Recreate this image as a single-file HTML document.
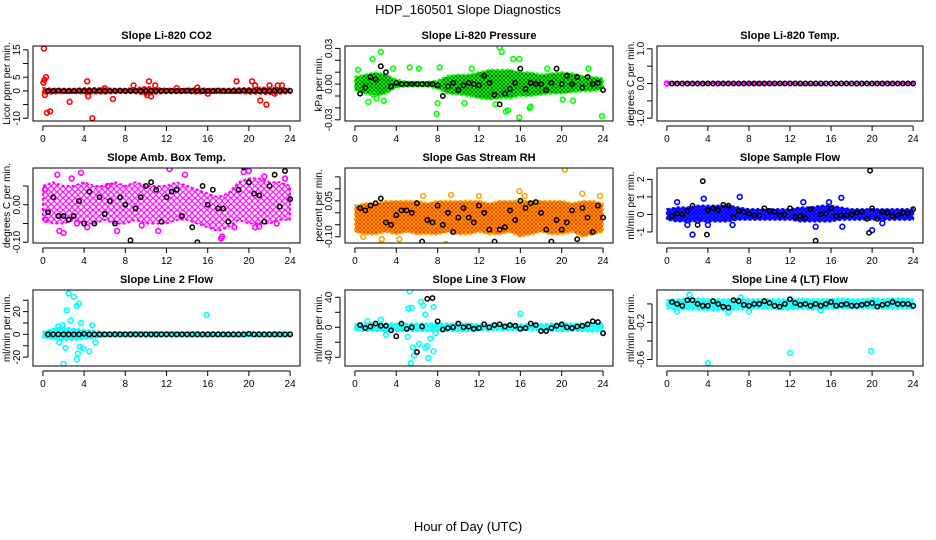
<!DOCTYPE html>
<html><head><meta charset="utf-8">
<style>
html,body{margin:0;padding:0;background:#fff;}
svg{display:block;font-family:"Liberation Sans",Arial,sans-serif;}
.t{font-size:11px;font-weight:bold;}
.tk{font-size:10px;}
</style></head>
<body>
<svg id="chart" width="936" height="540" viewBox="0 0 936 540">
<defs id="defs"></defs>
<text x="468" y="14" text-anchor="middle" font-size="13">HDP_160501  Slope Diagnostics</text>
<text x="468" y="531" text-anchor="middle" font-size="13">Hour of Day (UTC)</text>
</svg>
<script>
// shared
const bandHours = [0,1,2,3,4,5,6,7,8,9,10,11,12,13,14,15,16,17,18,19,20,21,22,23,24];
const blkHours = [0.5,1,1.5,2,2.5,3,3.5,4,4.5,5,5.5,6,6.5,7,7.5,8,8.5,9,9.5,10,10.5,11,11.5,12,12.5,13,13.5,14,14.5,15,15.5,16,16.5,17,17.5,18,18.5,19,19.5,20,20.5,21,21.5,22,22.5,23,23.5,24];
const xTicks = [0,4,8,12,16,20,24];

// Panel 1: CO2
const co2Lo = [-1,-1,-0.8,-0.8,-1,-1,-1,-0.8,-0.8,-0.8,-1.5,-1,-0.8,-0.8,-0.8,-1,-0.8,-0.8,-0.8,-0.8,-1,-1,-1.2,-1,-0.8];
const co2Hi = [1,0.8,0.8,0.8,1,1,1,0.8,0.8,1,1.5,1,0.8,0.8,0.8,1,0.8,0.8,0.8,1,1,1.2,1.2,1,0.8];
const co2OutX = [0.1,0.05,0.15,0.3,0.4,0.7,0.2,2.6,4.3,4.4,4.8,6.8,10.3,10.5,10.1,8.8,18.8,20.3,21.1,21.7,22,22.8,23.2,22.5,20.6,10.9,6,13,15,16];
const co2OutY = [15.5,3,4,5,-8,-7.5,-1.5,-4,3.5,-2,-10,-3,3.5,-2,-1.5,2,3.5,3.5,-3.5,-5,2,2,2,-1,2,2,1,1,1.2,-1];
const co2Blk = [0,0,0.1,0,0,0,0.1,0,0,0.1,0,0,0,0,0.1,0,0,0,0,0,0.1,0,0,0,0,0,0,0.1,0,0,0,0,0,0.1,0,0,0,0,0.1,0,0,0,0,0,0,0,0.1,0];
const co2YTicks = [-10,-5,0,5,10,15];
const co2YLabels = ["-10","","0","5","","15"];

// Panel 2: Pressure
const prLo = [-0.005,-0.008,-0.01,-0.008,-0.003,-0.002,-0.002,-0.002,-0.004,-0.008,-0.009,-0.01,-0.012,-0.013,-0.012,-0.012,-0.01,-0.01,-0.009,-0.008,-0.008,-0.007,-0.006,-0.006,-0.004];
const prHi = [0.006,0.008,0.01,0.008,0.004,0.002,0.002,0.002,0.003,0.007,0.008,0.008,0.01,0.012,0.012,0.012,0.01,0.01,0.008,0.009,0.01,0.009,0.007,0.006,0.005];
const prOutX = [2.5,1.7,14,14.2,15.3,15.9,0.3,8.2,1.3,1.8,7.9,8.0,10.6,13.6,14.6,14.8,15.9,17,16.9,20.1,21.1,23.9,5.3,6.2,11.3,3.7,18.6,22.6,2.1,2.8];
const prOutY = [0.027,0.021,0.031,0.027,0.021,0.021,0.012,0.014,-0.015,-0.009,-0.025,-0.016,-0.016,-0.017,-0.023,-0.022,-0.028,-0.019,-0.02,-0.013,-0.014,-0.027,0.014,0.013,0.013,0.013,0.013,0.013,-0.012,-0.014];
const prBlk = [-0.008,-0.003,0.006,0.004,0.015,0.01,-0.002,0.001,0,0,0,0,0,0,0,-0.001,-0.01,-0.002,0.001,-0.005,-0.001,0.001,0,-0.001,0.007,0.001,-0.009,-0.017,-0.008,-0.004,0.001,0.013,-0.004,0.001,0,0,-0.005,0.001,0.013,0,0.007,0,0.006,-0.003,0.006,0,0.001,-0.005];
const prYTicks = [-0.03,-0.02,-0.01,0,0.01,0.02,0.03];
const prYLabels = ["-0.03","","","0.00","","","0.03"];

// Panel 3: Li-820 Temp
const tLo = [-0.02,-0.02,-0.02,-0.02,-0.02,-0.02,-0.02,-0.02,-0.02,-0.02,-0.02,-0.02,-0.02,-0.02,-0.02,-0.02,-0.02,-0.02,-0.02,-0.02,-0.02,-0.02,-0.02,-0.02,-0.02];
const tHi = [0.02,0.02,0.02,0.02,0.02,0.02,0.02,0.02,0.02,0.02,0.02,0.02,0.02,0.02,0.02,0.02,0.02,0.02,0.02,0.02,0.02,0.02,0.02,0.02,0.02];
const tOutX = [0];
const tOutY = [0];
const tBlk = [0,0,0,0,0,0,0,0,0,0,0,0,0,0,0,0,0,0,0,0,0,0,0,0,0,0,0,0,0,0,0,0,0,0,0,0,0,0,0,0,0,0,0,0,0,0,0,0];
const tYTicks = [-1,-0.5,0,0.5,1];
const tYLabels = ["-1.0","","0.0","","1.0"];

// Panel 4: Amb box temp
const abLo = [-0.04,-0.05,-0.05,-0.04,-0.05,-0.05,-0.04,-0.05,-0.05,-0.04,-0.05,-0.05,-0.05,-0.04,-0.04,-0.05,-0.06,-0.07,-0.06,-0.04,-0.05,-0.05,-0.05,-0.04,-0.04];
const abHi = [0.05,0.06,0.05,0.05,0.06,0.05,0.05,0.06,0.05,0.06,0.05,0.05,0.05,0.06,0.05,0.04,0.03,0.02,0.03,0.06,0.07,0.07,0.06,0.06,0.05];
const abOutX = [1.4,2.8,3.7,9,12.3,19.5,20,17.3,17.4,1.6,2,4.3,7.2,11.2,3.3,9.6,18.6,20.6,21,22.7,0.2,21.5,6.3,13.8,0.3,23.5];
const abOutY = [0.08,0.07,0.085,0.105,0.095,0.087,0.09,-0.09,-0.085,-0.07,-0.075,-0.06,-0.07,-0.07,-0.05,-0.055,-0.06,-0.06,-0.058,-0.05,0.04,0.075,0.05,0.08,-0.04,0.07];
const abBlk = [-0.02,0.02,-0.03,-0.03,-0.04,-0.03,0.01,-0.05,0.035,-0.05,0.02,-0.025,0.01,-0.05,0.02,0,-0.095,-0.01,0.02,0.05,0.06,0.04,-0.045,0.02,0.035,0.04,-0.03,0.12,-0.06,-0.1,0.05,0,0.04,-0.01,-0.01,-0.045,-0.14,0.04,0.1,0.06,0.03,0.025,-0.045,0.05,0.08,-0.005,0.09,0.015];
const abYTicks = [-0.1,-0.05,0,0.05];
const abYLabels = ["-0.10","","0.00",""];

// Panel 5: Gas stream RH
const rhLo = [-0.08,-0.09,-0.09,-0.08,-0.09,-0.08,-0.09,-0.09,-0.09,-0.08,-0.09,-0.09,-0.08,-0.09,-0.09,-0.08,-0.1,-0.09,-0.08,-0.09,-0.09,-0.08,-0.1,-0.09,-0.08];
const rhHi = [0.03,0.04,0.04,0.05,0.05,0.05,0.05,0.04,0.05,0.05,0.05,0.05,0.05,0.04,0.05,0.05,0.05,0.05,0.05,0.05,0.05,0.04,0.05,0.05,0.04];
const rhOutX = [2.5,2.6,20.3,15.9,23.7,8.8,22,4.3,6.6,9.3,16.4,0.8,12];
const rhOutY = [-0.13,-0.11,0.18,0.09,0.07,-0.13,0.08,-0.11,0.07,0.075,0.07,-0.1,0.07];
const rhBlk = [0.02,0.01,0.03,0.04,0.06,-0.04,-0.05,-0.01,0.01,0.01,0,0.04,-0.12,-0.03,-0.04,0.03,-0.05,0,-0.08,-0.02,0.02,-0.02,-0.04,0.03,0,-0.07,-0.12,-0.07,-0.06,0.01,-0.03,0.05,0.02,0.04,0.045,0,-0.07,-0.12,-0.03,-0.07,-0.04,0.01,-0.11,0.02,-0.02,-0.08,0.03,-0.02];
const rhYTicks = [-0.1,-0.05,0,0.05,0.1,0.15];
const rhYLabels = ["-0.10","","","0.05","",""];

// Panel 6: Sample flow
const sfLo = [-0.3,-0.4,-0.4,-0.4,-0.4,-0.4,-0.4,-0.3,-0.3,-0.3,-0.3,-0.3,-0.3,-0.4,-0.4,-0.4,-0.4,-0.3,-0.3,-0.3,-0.3,-0.3,-0.3,-0.3,-0.3];
const sfHi = [0.3,0.4,0.4,0.5,0.5,0.5,0.5,0.4,0.3,0.3,0.3,0.3,0.3,0.4,0.4,0.5,0.5,0.4,0.3,0.3,0.3,0.3,0.3,0.3,0.3];
const sfOutX = [2.5,7.1,17,3.6,20,1,2,4,6.4,13.3,14.5,15.8,17.1,21];
const sfOutY = [-1.15,1,0.95,0.9,-0.9,0.7,-0.6,-0.6,-0.6,0.7,-0.7,0.7,-0.7,-0.5];
const sfBlk = [-0.1,0.05,0,0.2,0.5,-0.6,1.9,0.25,0.35,0.25,0.55,0.5,-0.15,0.2,0.15,0.05,-0.05,-0.05,0.35,0.2,0.15,-0.05,0,0.35,-0.15,-0.1,-0.2,0.3,-1.5,0,0.05,0.35,-0.1,-0.05,-0.05,0,0.1,0.15,-0.25,0.35,-0.25,0.15,0.1,-0.1,-0.05,0.1,0.05,0.3];
const sfXtraX = [3.9,19.8,19.7];
const sfXtraY = [-1.15,2.5,-1.05];
const sfYTicks = [-1,0,1,2];
const sfYLabels = ["-1","0","1","2"];

// Panel 7: Line 2 flow
const l2Lo = [-3,-4,-5,-5,-4,-3,-2,-2,-2,-2,-2,-2,-2,-2,-2,-2,-2,-2,-2,-2,-2,-2,-2,-2,-2];
const l2Hi = [2,5,6,5,4,3,2,2,2,2,2,2,2,2,2,2,2,2,2,2,2,2,2,2,2];
const l2OutX = [2.5,3,2.3,3.3,3.5,1.6,2.2,3.6,3.9,3.4,3.3,2,4.5,15.9,1.5,1.9,2.7,3.7,5.1,4.8];
const l2OutY = [36,33,21,25,27,-7,-12,-11,-12,-17,-22,-26,-15,17,7,8,12,10,-7,8];
const l2Blk = [0,0,0,0,0,0,0,0.5,0,0,0,0,0,0,0,0,0,0,0,0,0,0,0,0,0,0,0,0,0,0,0,0,0,0,0,0,0,0,0,0.5,0,0,0,0,0,0,0,0];
const l2YTicks = [-20,-10,0,10,20,30];
const l2YLabels = ["-20","","0","","20",""];

// Panel 8: Line 3 flow
const l3Lo = [-4,-5,-5,-5,-5,-5,-5,-5,-5,-5,-5,-5,-4,-4,-4,-4,-4,-4,-4,-5,-5,-5,-5,-6,-5];
const l3Hi = [4,5,5,5,5,5,5,5,5,5,5,5,4,4,4,4,4,4,4,5,5,5,5,6,5];
const l3OutX = [5.3,5.5,5.2,6.4,6.6,6.8,7.6,7.3,5.6,5.7,5.4,6.2,6.8,7.1,7.0,7.6,5.1,16,2.5,1.2,3,7.8];
const l3OutY = [48,26,25,34,29,17,27,-15,-27,-38,-48,-22,-27,-41,-25,-32,-13,18,10,8,-10,-8];
const l3Blk = [3,-1,1,5,2,2,-4,-12,5,-2,0,-33,1,38,39,8,-3,-1,0,5,0,1,-2,-1,4,0,3,4,1,3,2,-2,-1,5,3,-5,-5,-1,2,4,0,-1,1,2,4,8,7,-8];
const l3YTicks = [-40,-20,0,20,40];
const l3YLabels = ["-40","","0","","40"];

// Panel 9: Line 4 flow
const l4Lo = [-0.05,-0.06,-0.06,-0.06,-0.07,-0.07,-0.06,-0.06,-0.05,-0.05,-0.05,-0.06,-0.06,-0.05,-0.06,-0.06,-0.05,-0.05,-0.05,-0.05,-0.05,-0.05,-0.05,-0.05,-0.05];
const l4Hi = [0.04,0.05,0.06,0.06,0.05,0.05,0.05,0.06,0.05,0.05,0.05,0.05,0.05,0.06,0.05,0.05,0.05,0.06,0.05,0.05,0.06,0.05,0.06,0.06,0.05];
const l4OutX = [4,12,19.9,2.2,7.2,1,6,8,15];
const l4OutY = [-0.64,-0.53,-0.51,0.1,0.07,-0.08,-0.09,-0.08,-0.07];
const l4Blk = [0.02,0,-0.02,0.04,0.04,0,-0.02,-0.02,0.03,0,-0.03,-0.04,0.04,0.03,-0.01,-0.02,0,0,0.03,0.01,-0.02,-0.03,0,0.05,0.01,-0.01,0,-0.02,0,-0.02,0,0.02,-0.02,-0.01,0,-0.02,-0.02,-0.01,0,0.01,-0.03,-0.01,0,0.02,0,0,0,-0.02];
const l4YTicks = [-0.6,-0.4,-0.2,0];
const l4YLabels = ["-0.6","","-0.2",""];

const NS = 'http://www.w3.org/2000/svg';
const svg = document.getElementById('chart');
const defs = document.getElementById('defs');
function mk(tag, attrs, parent){ const e=document.createElementNS(NS,tag); for(const k in attrs) e.setAttribute(k,attrs[k]); (parent||svg).appendChild(e); return e; }

const cols = [[33,300],[345,613],[657,923]];
const rows = [[46,121],[168,243],[290,366]];

const panels = [
 {name:'co2',title:'Slope Li-820 CO2',ylab:'Licor ppm per min.',c:0,r:0,yr:[-11,16.4],lo:co2Lo,hi:co2Hi,ox:co2OutX,oy:co2OutY,blk:co2Blk,yt:co2YTicks,yl:co2YLabels,col:'#FF0000',tile:4,bg:'#ff6060'},
 {name:'pressure',title:'Slope Li-820 Pressure',ylab:'kPa per min.',c:1,r:0,yr:[-0.031,0.032],lo:prLo,hi:prHi,ox:prOutX,oy:prOutY,blk:prBlk,yt:prYTicks,yl:prYLabels,col:'#00FF00',tile:4,bg:'#111'},
 {name:'licor-temp',title:'Slope Li-820 Temp.',ylab:'degrees C per min.',c:2,r:0,yr:[-1.08,1.08],lo:tLo,hi:tHi,ox:tOutX,oy:tOutY,blk:tBlk,yt:tYTicks,yl:tYLabels,col:'#FF00FF',tile:4,bg:'#FF00FF'},
 {name:'amb-box-temp',title:'Slope Amb. Box Temp.',ylab:'degrees C per min.',c:0,r:1,yr:[-0.102,0.098],lo:abLo,hi:abHi,ox:abOutX,oy:abOutY,blk:abBlk,yt:abYTicks,yl:abYLabels,col:'#FF00FF',tile:6,bg:'#fff'},
 {name:'gas-stream-rh',title:'Slope Gas Stream RH',ylab:'percent per min.',c:1,r:1,yr:[-0.126,0.187],lo:rhLo,hi:rhHi,ox:rhOutX,oy:rhOutY,blk:rhBlk,yt:rhYTicks,yl:rhYLabels,col:'#FFA500',tile:4,bg:'#E00000'},
 {name:'sample-flow',title:'Slope Sample Flow',ylab:'ml/min per min.',c:2,r:1,yr:[-1.63,2.65],lo:sfLo,hi:sfHi,ox:sfOutX,oy:sfOutY,blk:sfBlk,xx:sfXtraX,xy:sfXtraY,yt:sfYTicks,yl:sfYLabels,col:'#0000FF',tile:4,bg:'#3030ff'},
 {name:'line2-flow',title:'Slope Line 2 Flow',ylab:'ml/min per min.',c:0,r:2,yr:[-27.8,39],lo:l2Lo,hi:l2Hi,ox:l2OutX,oy:l2OutY,blk:l2Blk,yt:l2YTicks,yl:l2YLabels,col:'#00FFFF',tile:4,bg:'#80ffff'},
 {name:'line3-flow',title:'Slope Line 3 Flow',ylab:'ml/min per min.',c:1,r:2,yr:[-51.6,49.7],lo:l3Lo,hi:l3Hi,ox:l3OutX,oy:l3OutY,blk:l3Blk,yt:l3YTicks,yl:l3YLabels,col:'#00FFFF',tile:4,bg:'#80ffff'},
 {name:'line4-flow',title:'Slope Line 4 (LT) Flow',ylab:'ml/min per min.',c:2,r:2,yr:[-0.67,0.15],lo:l4Lo,hi:l4Hi,ox:l4OutX,oy:l4OutY,blk:l4Blk,yt:l4YTicks,yl:l4YLabels,col:'#00FFFF',tile:4,bg:'#80ffff'}
];

panels.forEach(p=>{
  const [x0,x1]=cols[p.c], [y0,y1]=rows[p.r];
  const sx = h => x0 + (h+0.96)/25.92*(x1-x0);
  const sy = v => y1 - (v-p.yr[0])/(p.yr[1]-p.yr[0])*(y1-y0);
  // texture pattern for dense band
  const pid = 'pat-'+p.name;
  const pat = mk('pattern',{id:pid,width:p.tile,height:p.tile,patternUnits:'userSpaceOnUse'},defs);
  mk('rect',{width:p.tile,height:p.tile,fill:p.bg},pat);
  mk('circle',{cx:p.tile/2,cy:p.tile/2,r:p.tile/2-0.6,fill:'none',stroke:p.col,'stroke-width':1.2},pat);

  const g = mk('g',{});
  
  
  const title = mk('text',{x:(x0+x1)/2,y:y0-7,'text-anchor':'middle','class':'t'},g);
  title.textContent = p.title;
  
  
  const clip = 'clip-'+p.name;
  const cp = mk('clipPath',{id:clip},g); mk('rect',{x:x0,y:y0,width:x1-x0,height:y1-y0},cp);
  const plot = mk('g',{'clip-path':'url(#'+clip+')'},g);
  let pts = bandHours.map((h,i)=>sx(h)+','+sy(p.hi[i]));
  for(let i=bandHours.length-1;i>=0;i--) pts.push(sx(bandHours[i])+','+sy(p.lo[i]));
  const band = mk('polygon',{points:pts.join(' '),fill:'url(#'+pid+')',stroke:p.col,'stroke-width':2,'stroke-dasharray':'3 2','stroke-linejoin':'round'},plot);
  
  
  p.ox.forEach((h,i)=>{
    const c = mk('circle',{cx:sx(h),cy:sy(p.oy[i]),r:2.4,fill:'none',stroke:p.col,'stroke-width':1.6},plot);
    
    
  });
  p.blk.forEach((v,i)=>{
    const c = mk('circle',{cx:sx(blkHours[i]),cy:sy(v),r:2.2,fill:'none',stroke:'#000','stroke-width':1.5},plot);
    
    
  });
  (p.xx||[]).forEach((h,i)=>{
    const c = mk('circle',{cx:sx(h),cy:sy(p.xy[i]),r:2.2,fill:'none',stroke:'#000','stroke-width':1.5},plot);
    
    
  });
  const box = mk('rect',{x:x0,y:y0,width:x1-x0,height:y1-y0,fill:'none',stroke:'#000','stroke-width':1},g);
  
  
  const ax = mk('g',{},g);
  
  
  const ay0 = y1+5;
  mk('line',{x1:sx(xTicks[0]),x2:sx(xTicks[xTicks.length-1]),y1:ay0,y2:ay0,stroke:'#000'},ax);
  xTicks.forEach(t=>{
    mk('line',{x1:sx(t),x2:sx(t),y1:ay0,y2:ay0+5,stroke:'#000'},ax);
    const tx = mk('text',{x:sx(t),y:ay0+16,'text-anchor':'middle','class':'tk'},ax); tx.textContent=t;
  });
  const ayg = mk('g',{},g);
  
  
  const axx = x0-5;
  mk('line',{x1:axx,x2:axx,y1:sy(p.yt[0]),y2:sy(p.yt[p.yt.length-1]),stroke:'#000'},ayg);
  p.yt.forEach((t,i)=>{
    mk('line',{x1:axx,x2:axx-5,y1:sy(t),y2:sy(t),stroke:'#000'},ayg);
    if(p.yl[i]){ const tx = mk('text',{x:0,y:0,'text-anchor':'middle','class':'tk',transform:'translate('+(axx-8)+','+sy(t)+') rotate(-90)'},ayg); tx.textContent=p.yl[i]; }
  });
  const yt = mk('text',{x:0,y:0,'text-anchor':'middle','class':'tk',transform:'translate('+(x0-23)+','+((y0+y1)/2)+') rotate(-90)'},g);
  yt.textContent = p.ylab;
  
  
});
</script>
</body></html>
